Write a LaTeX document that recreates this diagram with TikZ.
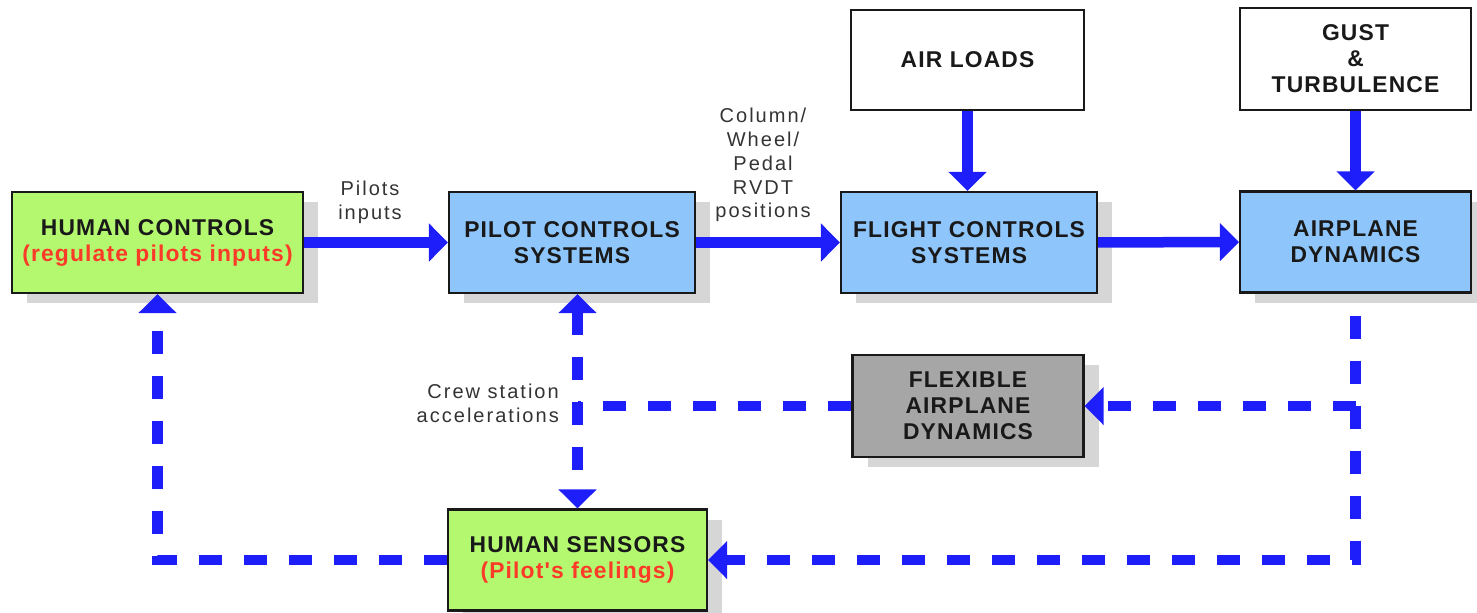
\documentclass[tikz,border=0pt]{standalone}
\usepackage{xcolor}
\usepackage{fontspec}
\setmainfont{Liberation Sans}
\newfontfamily\blockfont[LetterSpace=5]{Liberation Sans}
\newfontfamily\labelfont[LetterSpace=10]{Liberation Sans}
\usepackage{tikz}
\usetikzlibrary{arrows.meta,shapes,positioning,shadows}
\definecolor{pilotgreen}{RGB}{180,248,112}
\definecolor{sysblue}{RGB}{142,198,252}
\definecolor{flexgray}{RGB}{166,166,166}
\definecolor{signalblue}{RGB}{30,30,250}
\definecolor{notered}{RGB}{252,58,40}
\definecolor{shadowgray}{RGB}{214,214,214}

\begin{document}
\begin{tikzpicture}[
  block/.style={draw=black!90, line width=1.2pt, align=center, minimum height=2.02cm,
    text=black!90, font=\blockfont\fontsize{13}{14.8}\selectfont\bfseries},
  shaded/.style={drop shadow={shadow xshift=0.3cm, shadow yshift=-0.2cm, fill=shadowgray, opacity=1}},
  flow/.style={-{Triangle[length=0.38cm,width=0.74cm]}, signalblue, line width=0.21cm},
  feedback/.style={flow, dash pattern=on 0.46cm off 0.44cm},
  note/.style={align=center, text=black!80, font=\labelfont\fontsize{11.4}{13.6}\selectfont}
]
            \useasboundingbox (0,0) rectangle (29.54,-12.24);

            % Forward path
            \node[block, shaded, fill=pilotgreen, minimum width=5.82cm] (human) at (3.15,-4.85) {HUMAN CONTROLS\\\textcolor{notered}{(regulate pilots inputs)}};
            \node[block, shaded, fill=sysblue, minimum width=4.92cm] (pilot) at (11.44,-4.85) {PILOT CONTROLS\\SYSTEMS};
            \node[block, shaded, fill=sysblue, minimum width=5.12cm] (flight) at (19.38,-4.85) {FLIGHT CONTROLS\\SYSTEMS};
            \node[block, shaded, fill=sysblue, minimum width=4.62cm] (airplane) at (27.11,-4.84) {AIRPLANE\\DYNAMICS};

            % Disturbances
            \node[block, fill=white, minimum width=4.66cm, minimum height=2cm] (loads) at (19.35,-1.20) {AIR LOADS};
            \node[block, fill=white, minimum width=4.62cm, minimum height=2.04cm] (gust) at (27.11,-1.18) {GUST\\\&\\TURBULENCE};

            % Feedback blocks
            \node[block, shaded, fill=flexgray, minimum width=4.62cm, minimum height=2.04cm] (flex) at (19.36,-8.12) {FLEXIBLE\\AIRPLANE\\DYNAMICS};
            \node[block, shaded, fill=pilotgreen, minimum width=5.18cm] (sensors) at (11.55,-11.2) {HUMAN SENSORS\\\textcolor{notered}{(Pilot's feelings)}};

            \draw[flow] (human) -- (pilot);
            \draw[flow] (pilot) -- (flight);
            \draw[flow] (flight) -- (airplane);
            \draw[flow] (loads.south) -- (loads.south |- flight.north);
            \draw[flow] (gust.south) -- (gust.south |- airplane.north);

            % Feedback loops
            \draw[feedback, dash phase=0.46cm] (airplane.south) |- (sensors.east);
            \draw[feedback] (airplane.south |- flex.east) -- (flex.east);
            \draw[feedback, -] (flex.west) -- (flex.west -| sensors.north);
            \draw[feedback, {Triangle[length=0.38cm,width=0.74cm]}-{Triangle[length=0.38cm,width=0.74cm]}] (sensors.north |- pilot.south) -- (sensors.north);
            \draw[feedback] (sensors.west) -| (human.south);

            \node[note] (pilotsin) at (7.4,-4.04) {Pilots\\inputs};
            \node[note] (positions) at (15.26,-3.3) {Column/\\Wheel/\\Pedal\\RVDT\\positions};
            \node[note, align=right, anchor=east] (crew) at (11.3,-8.06) {Crew station\\accelerations};
        \end{tikzpicture}
\end{document}
